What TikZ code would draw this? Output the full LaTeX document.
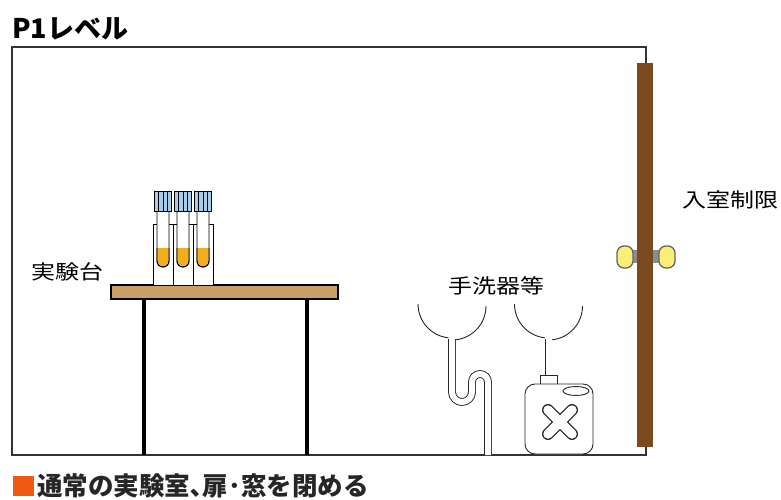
\documentclass[tikz,border=0pt]{standalone}
\usepackage{fontspec}
\usepackage{graphicx}
\newfontfamily\jp{Noto Sans CJK JP}
\definecolor{wallc}{HTML}{333333}
\definecolor{doorc}{HTML}{7A4B1E}
\definecolor{woodc}{HTML}{C9A064}
\definecolor{capc}{HTML}{A8CDEB}
\definecolor{liquidc}{HTML}{F2AE1C}
\definecolor{knobc}{HTML}{F8EE78}
\definecolor{markc}{HTML}{EE5A10}
\tikzset{
  wall/.style={draw=wallc, line width=1.5pt},
  label/.style={font=\jp\fontsize{20}{20}\selectfont, inner sep=0pt},
  pipe/.style={draw=black!85, line width=0.9pt, double=white, double distance=6pt},
  thin line/.style={draw=black!85, line width=0.9pt},
  knob/.style={draw=black!60, line width=1.3pt, fill=knobc, rounded corners=7pt},
}
\begin{document}
\begin{tikzpicture}[x=1pt, y=-1pt]
\useasboundingbox (0,0) rectangle (781,500);

% title
\node[anchor=west, inner sep=0pt, font=\jp\bfseries\fontsize{27}{27}\selectfont] (title) at (12,29) {P1レベル};

% room outline
\draw[wall] (12,47) rectangle (646,455);

% bench
\fill[black] (142,299) rectangle (146,455);
\fill[black] (305,299) rectangle (309,455);
\draw[fill=woodc, line width=1.2pt] (111,285) rectangle (338,299);
\node[label, anchor=east] (bench) at (104,272) {\scalebox{1.2}[1]{実験台}};

% tube rack
\foreach \x in {153,173,193}
  \draw[fill=white, line width=0.9pt] (\x,224) rectangle ++(20,61);
% tubes with caps
\foreach \c in {163,183,203} {
  \draw[fill=white, line width=0.9pt] (\c-6,208) -- (\c-6,261) arc[start angle=180,end angle=0,radius=6] -- (\c+6,208);
  \fill[liquidc] (\c-5.5,248) -- (\c-5.5,261) arc[start angle=180,end angle=0,radius=5.5] -- (\c+5.5,248) -- cycle;
  \draw[line width=0.9pt] (\c-6,248) -- (\c-6,261) arc[start angle=180,end angle=0,radius=6] -- (\c+6,248);
  \draw[fill=capc, line width=0.9pt] (\c-8.5,191) rectangle (\c+8.5,211);
  \foreach \d in {-4.25,0,4.25}
    \draw[line width=0.8pt] (\c+\d,191) -- (\c+\d,211);
}

% sink 1 with trap
\node[label] (sinks) at (496,286) {\scalebox{1.2}[1]{手洗器等}};
\draw[pipe] (452,339) -- (452,392) arc[start angle=180,end angle=0,radius=10]
  -- (472,382) arc[start angle=180,end angle=360,radius=8] -- (488,455);
\draw[thin line] (418,304) arc[start angle=180,end angle=96,radius=34];
\draw[thin line] (452,306) ++(84:34) arc[start angle=84,end angle=0,radius=34];

% sink 2 draining into a canister
\draw[pipe] (548.5,339) -- (548.5,376);
\draw[thin line] (514.5,304) arc[start angle=180,end angle=96,radius=34];
\draw[thin line] (548.5,306) ++(84:34) arc[start angle=84,end angle=0,radius=34];
\draw[thin line, fill=white] (540,375) rectangle (557,384);
\draw[thin line, fill=white, rounded corners=10pt] (525,384) rectangle (593,454);
\draw[thin line] (576,391) ellipse[x radius=13, y radius=4.5];
\draw[line width=12pt, line cap=round, black!85] (548,410) -- (572,434) (572,410) -- (548,434);
\draw[line width=9.5pt, line cap=round, white] (548,410) -- (572,434) (572,410) -- (548,434);

% door with knobs
\fill[black!45] (628,250) rectangle (664,263);
\fill[doorc] (637,63) rectangle (653,447);
\draw[knob] (617,246) rectangle (633,268);
\draw[knob] (659,246) rectangle (675,268);
\node[label, anchor=west] (entry) at (682,200) {\scalebox{1.2}[1]{入室制限}};

% legend
\fill[markc] (13,476) rectangle (34,496);
\node[anchor=west, inner sep=0pt, text=black!85, font=\jp\bfseries\fontsize{25.5}{25.5}\selectfont] (note) at (37,486) {通常の実験室､扉･窓を閉める};
\end{tikzpicture}
\end{document}
